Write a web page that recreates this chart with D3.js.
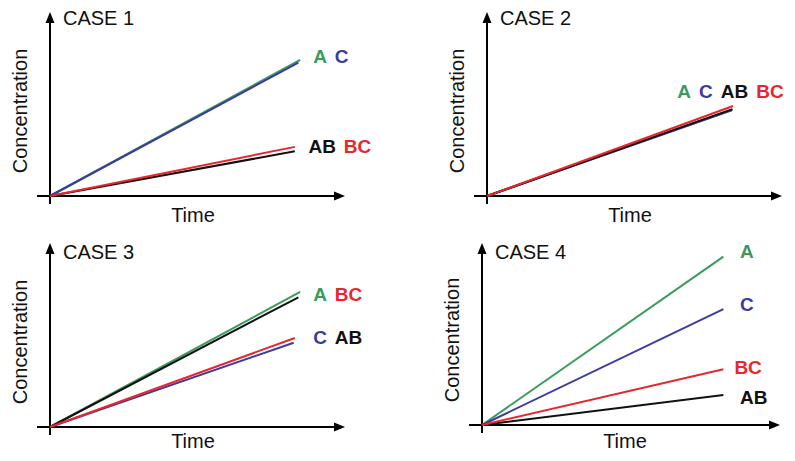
<!DOCTYPE html>
<html>
<head>
<meta charset="utf-8">
<script src="https://cdn.jsdelivr.net/npm/d3@7"></script>
<style>
  html, body { margin: 0; padding: 0; background: #fff; }
  svg { display: block; }
  text { font-family: "Liberation Sans", Arial, Helvetica, sans-serif; }
</style>
</head>
<body>
<svg id="chart" width="795" height="461"></svg>
<script>
// ---------- data ----------
const cases = ["CASE 1", "CASE 2", "CASE 3", "CASE 4"];
const species = ["A", "C", "AB", "BC"];           // draw order
const speciesColors = ["#3b9a5c", "#3b3b9e", "#111111", "#e8272d"];

// end point of each straight line (time, concentration), in axis units (0..1)
const endTimeA  = [0.848, 0.832, 0.848, 0.810];
const concA     = [0.740, 0.470, 0.734, 0.925];
const endTimeC  = [0.842, 0.830, 0.826, 0.810];
const concC     = [0.725, 0.466, 0.458, 0.637];
const endTimeAB = [0.830, 0.832, 0.842, 0.810];
const concAB    = [0.243, 0.472, 0.705, 0.165];
const endTimeBC = [0.830, 0.834, 0.830, 0.810];
const concBC    = [0.267, 0.489, 0.484, 0.306];

// label groups per case: words and anchor (time, concentration)
const labelWords  = [[["A", "C"], ["AB", "BC"]], [["A", "C", "AB", "BC"]], [["A", "BC"], ["C", "AB"]], [["A"], ["C"], ["BC"], ["AB"]]];
const labelTime   = [[0.892, 0.876], [0.645], [0.892, 0.892], [0.866, 0.866, 0.847, 0.866]];
const labelConc   = [[0.723, 0.234], [0.533], [0.686, 0.451], [0.918, 0.626, 0.280, 0.115]];

const xTitle = "Time";
const yTitle = "Concentration";

// ---------- layout ----------
const layout = [
  { ox: 50,  oy: 196, xEnd: 345, yTop: 12,  titleY: 25,  timeDy: 26 },
  { ox: 487, oy: 196, xEnd: 782, yTop: 12,  titleY: 25,  timeDy: 26 },
  { ox: 50,  oy: 427, xEnd: 345, yTop: 243, titleY: 259, timeDy: 21 },
  { ox: 482, oy: 425, xEnd: 780, yTop: 243, titleY: 259, timeDy: 23 }
];
const seriesEnds = {
  A:  [endTimeA, concA],
  C:  [endTimeC, concC],
  AB: [endTimeAB, concAB],
  BC: [endTimeBC, concBC]
};
const color = d3.scaleOrdinal().domain(species).range(speciesColors);

const svg = d3.select("#chart");

cases.forEach((name, i) => {
  const L = layout[i];
  const x = d3.scaleLinear().domain([0, 1]).range([L.ox, L.xEnd]);
  const y = d3.scaleLinear().domain([0, 1]).range([L.oy, L.yTop]);
  const g = svg.append("g");

  // axes (no ticks), with small overhang past the origin and arrowheads
  const xa = g.append("g").attr("transform", `translate(0,${L.oy})`)
    .call(d3.axisBottom(x).tickValues([]).tickSizeOuter(0));
  xa.select(".domain").attr("d", `M${L.ox - 13},0H${x(1) - 6}`)
    .attr("stroke", "#000").attr("stroke-width", 2);
  const ya = g.append("g").attr("transform", `translate(${L.ox},0)`)
    .call(d3.axisLeft(y).tickValues([]).tickSizeOuter(0));
  ya.select(".domain").attr("d", `M0,${L.oy + 8}V${y(1) + 6}`)
    .attr("stroke", "#000").attr("stroke-width", 2);

  g.append("path")
    .attr("d", `M${x(1)},${L.oy}L${x(1) - 11},${L.oy - 4.5}L${x(1) - 11},${L.oy + 4.5}Z`)
    .attr("fill", "#000");
  g.append("path")
    .attr("d", `M${L.ox},${y(1)}L${L.ox - 4.5},${y(1) + 11}L${L.ox + 4.5},${y(1) + 11}Z`)
    .attr("fill", "#000");

  // lines
  const line = d3.line().x(d => x(d[0])).y(d => y(d[1]));
  species.forEach(s => {
    const [tArr, cArr] = seriesEnds[s];
    g.append("path")
      .datum([[0, 0], [tArr[i], cArr[i]]])
      .attr("d", line)
      .attr("fill", "none")
      .attr("stroke", color(s))
      .attr("stroke-width", 2);
  });

  // case title
  g.append("text")
    .attr("x", L.ox + 13).attr("y", L.titleY)
    .attr("font-size", 20).attr("fill", "#111")
    .text(name);

  // axis titles
  g.append("text")
    .attr("x", L.ox + 143).attr("y", L.oy + L.timeDy)
    .attr("text-anchor", "middle")
    .attr("font-size", 20).attr("fill", "#111")
    .text(xTitle);
  g.append("text")
    .attr("transform", `translate(${L.ox - 23},${L.oy - 85}) rotate(-90)`)
    .attr("text-anchor", "middle")
    .attr("font-size", 20).attr("fill", "#111")
    .text(yTitle);

  // labels
  labelWords[i].forEach((words, j) => {
    let cx = x(labelTime[i][j]);
    const cy = y(labelConc[i][j]);
    words.forEach(w => {
      const t = g.append("text")
        .attr("x", cx).attr("y", cy)
        .attr("font-size", 19).attr("font-weight", "bold")
        .attr("fill", color(w))
        .text(w);
      cx += t.node().getComputedTextLength() + 8;
    });
  });
});
</script>
</body>
</html>
